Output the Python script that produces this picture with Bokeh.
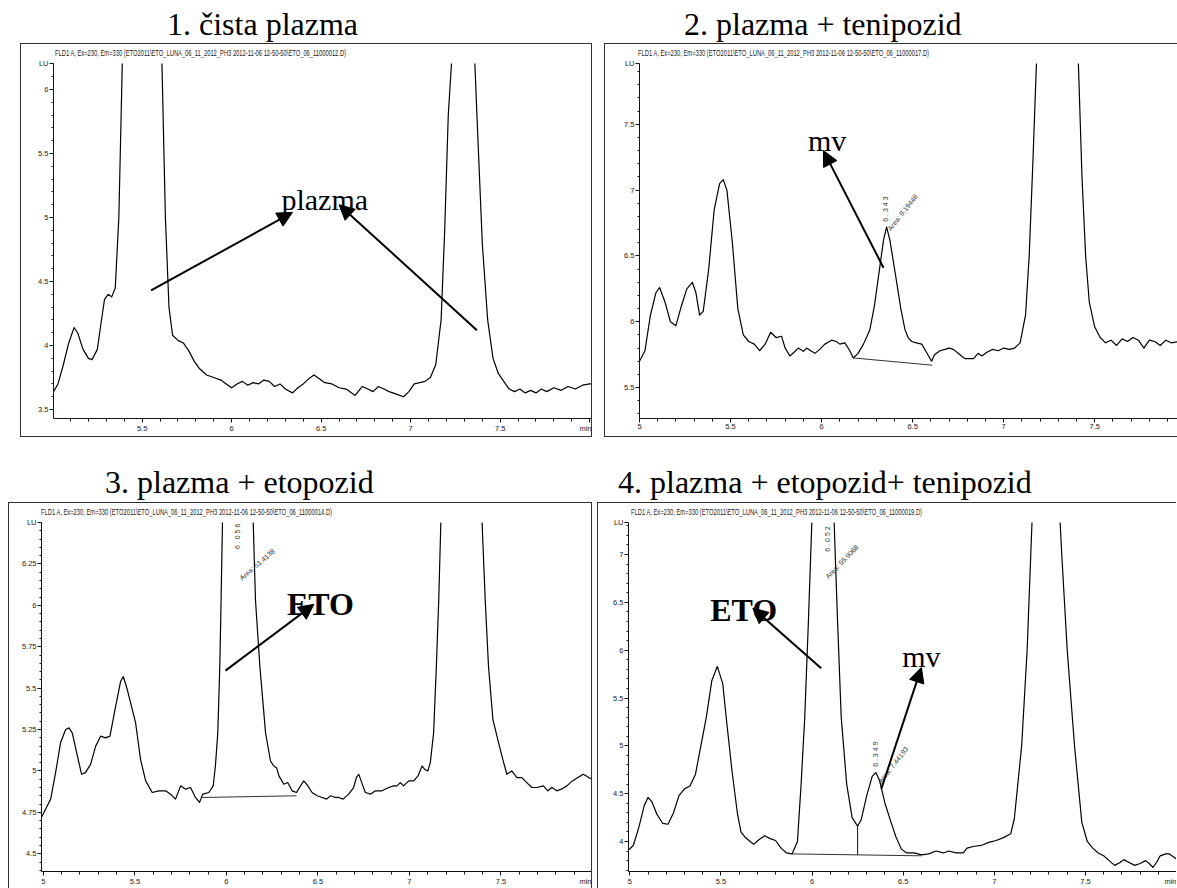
import math
from bokeh.plotting import figure
from bokeh.layouts import column, row
from bokeh.models import Div, Label, Arrow, NormalHead, FixedTicker, Range1d, CustomJSTickFormatter
from bokeh.embed import file_html
from bokeh.resources import INLINE

# ---------------- data ----------------
titles = ["1. čista plazma", "2. plazma + tenipozid", "3. plazma + etopozid", "4. plazma + etopozid+ tenipozid"]
headers = [
    "FLD1 A, Ex=230, Em=330 (ETO2011\\ETO_LUNA_06_11_2012_PH3 2012-11-06 12-50-50\\ETO_06_11000012.D)",
    "FLD1 A, Ex=230, Em=330 (ETO2011\\ETO_LUNA_06_11_2012_PH3 2012-11-06 12-50-50\\ETO_06_11000017.D)",
    "FLD1 A, Ex=230, Em=330 (ETO2011\\ETO_LUNA_06_11_2012_PH3 2012-11-06 12-50-50\\ETO_06_11000014.D)",
    "FLD1 A, Ex=230, Em=330 (ETO2011\\ETO_LUNA_06_11_2012_PH3 2012-11-06 12-50-50\\ETO_06_11000019.D)",
]

p1_t = [5.005, 5.03, 5.06, 5.09, 5.12, 5.14, 5.17, 5.20, 5.22, 5.25, 5.27, 5.29, 5.31, 5.33, 5.35, 5.37, 5.39, 5.42, 5.46, 5.50, 5.54, 5.58, 5.61, 5.63, 5.65, 5.67, 5.70, 5.73, 5.76, 5.79, 5.82, 5.86, 5.90, 5.94, 5.97, 6.00, 6.03, 6.06, 6.09, 6.12, 6.15, 6.18, 6.21, 6.24, 6.27, 6.30, 6.34, 6.37, 6.40, 6.43, 6.46, 6.49, 6.52, 6.56, 6.60, 6.64, 6.69, 6.73, 6.76, 6.79, 6.82, 6.85, 6.88, 6.92, 6.96, 6.99, 7.02, 7.05, 7.08, 7.11, 7.14, 7.17, 7.19, 7.21, 7.23, 7.26, 7.29, 7.32, 7.35, 7.37, 7.40, 7.43, 7.46, 7.49, 7.52, 7.55, 7.58, 7.61, 7.64, 7.67, 7.70, 7.73, 7.76, 7.80, 7.84, 7.88, 7.92, 7.96, 8.00, 8.02]
p1_v = [3.64, 3.70, 3.85, 4.02, 4.14, 4.10, 3.97, 3.90, 3.89, 3.97, 4.17, 4.36, 4.40, 4.38, 4.45, 5.0, 6.25, 8.5, 10.0, 10.5, 10.0, 8.0, 6.25, 5.0, 4.3, 4.08, 4.04, 4.02, 3.96, 3.88, 3.82, 3.77, 3.75, 3.73, 3.70, 3.67, 3.70, 3.72, 3.69, 3.71, 3.70, 3.73, 3.72, 3.68, 3.70, 3.66, 3.63, 3.67, 3.70, 3.74, 3.77, 3.74, 3.71, 3.70, 3.67, 3.66, 3.61, 3.68, 3.66, 3.64, 3.68, 3.66, 3.64, 3.62, 3.60, 3.64, 3.70, 3.71, 3.72, 3.75, 3.85, 4.2, 4.9, 5.8, 6.25, 8.5, 10.0, 8.5, 6.5, 5.8, 4.8, 4.2, 3.9, 3.78, 3.72, 3.66, 3.64, 3.66, 3.63, 3.65, 3.63, 3.66, 3.64, 3.67, 3.65, 3.68, 3.66, 3.69, 3.70, 3.70]

p2_t = [5.00, 5.03, 5.06, 5.09, 5.11, 5.14, 5.17, 5.20, 5.23, 5.26, 5.29, 5.31, 5.33, 5.35, 5.38, 5.41, 5.44, 5.46, 5.48, 5.51, 5.54, 5.57, 5.60, 5.63, 5.66, 5.69, 5.72, 5.75, 5.78, 5.80, 5.826, 5.85, 5.872, 5.90, 5.918, 5.94, 5.963, 5.99, 6.018, 6.055, 6.08, 6.10, 6.128, 6.155, 6.174, 6.20, 6.23, 6.265, 6.29, 6.31, 6.34, 6.357, 6.375, 6.41, 6.435, 6.458, 6.475, 6.495, 6.52, 6.55, 6.575, 6.604, 6.62, 6.65, 6.677, 6.70, 6.724, 6.76, 6.787, 6.81, 6.834, 6.86, 6.88, 6.91, 6.94, 6.97, 7.00, 7.03, 7.06, 7.09, 7.12, 7.14, 7.16, 7.18, 7.22, 7.30, 7.37, 7.41, 7.43, 7.45, 7.47, 7.50, 7.53, 7.56, 7.59, 7.62, 7.65, 7.68, 7.71, 7.74, 7.77, 7.80, 7.83, 7.86, 7.89, 7.92, 7.97]
p2_v = [5.70, 5.78, 6.05, 6.22, 6.26, 6.15, 6.00, 5.97, 6.12, 6.25, 6.30, 6.22, 6.05, 6.08, 6.40, 6.85, 7.05, 7.08, 7.00, 6.60, 6.10, 5.90, 5.85, 5.83, 5.78, 5.83, 5.92, 5.88, 5.89, 5.80, 5.74, 5.77, 5.80, 5.775, 5.80, 5.78, 5.76, 5.79, 5.83, 5.86, 5.85, 5.83, 5.84, 5.78, 5.725, 5.76, 5.83, 5.94, 6.12, 6.32, 6.62, 6.72, 6.62, 6.32, 6.10, 5.94, 5.88, 5.85, 5.84, 5.83, 5.77, 5.70, 5.75, 5.78, 5.79, 5.80, 5.79, 5.75, 5.72, 5.72, 5.72, 5.76, 5.74, 5.77, 5.79, 5.78, 5.80, 5.79, 5.80, 5.84, 6.05, 6.50, 7.20, 7.97, 9.5, 10.5, 9.5, 7.97, 7.10, 6.50, 6.15, 5.96, 5.88, 5.84, 5.86, 5.82, 5.87, 5.85, 5.88, 5.86, 5.80, 5.86, 5.85, 5.82, 5.86, 5.84, 5.85]

p3_t = [4.99, 5.013, 5.04, 5.067, 5.094, 5.122, 5.14, 5.158, 5.182, 5.209, 5.23, 5.258, 5.286, 5.313, 5.34, 5.364, 5.395, 5.422, 5.437, 5.459, 5.486, 5.504, 5.531, 5.559, 5.595, 5.631, 5.668, 5.695, 5.722, 5.75, 5.777, 5.804, 5.831, 5.853, 5.871, 5.904, 5.928, 5.94, 5.953, 5.964, 5.971, 5.979, 6.06, 6.146, 6.159, 6.183, 6.214, 6.241, 6.259, 6.274, 6.287, 6.314, 6.335, 6.359, 6.383, 6.405, 6.423, 6.445, 6.468, 6.496, 6.523, 6.547, 6.569, 6.596, 6.614, 6.637, 6.668, 6.695, 6.71, 6.723, 6.736, 6.759, 6.787, 6.814, 6.85, 6.886, 6.914, 6.932, 6.95, 6.968, 6.996, 7.023, 7.047, 7.069, 7.083, 7.10, 7.114, 7.132, 7.147, 7.16, 7.172, 7.28, 7.396, 7.414, 7.432, 7.456, 7.487, 7.51, 7.532, 7.559, 7.587, 7.614, 7.641, 7.668, 7.696, 7.732, 7.756, 7.778, 7.805, 7.83, 7.86, 7.89, 7.92, 7.95, 7.98, 8.00]
p3_v = [4.72, 4.77, 4.83, 4.99, 5.17, 5.25, 5.26, 5.23, 5.11, 4.98, 4.99, 5.04, 5.15, 5.21, 5.20, 5.21, 5.39, 5.54, 5.57, 5.49, 5.37, 5.29, 5.07, 4.94, 4.87, 4.88, 4.88, 4.86, 4.83, 4.91, 4.89, 4.90, 4.84, 4.81, 4.86, 4.87, 4.91, 5.03, 5.23, 5.63, 6.03, 6.52, 8.5, 6.52, 6.03, 5.63, 5.23, 5.06, 5.03, 5.02, 4.97, 4.92, 4.93, 4.88, 4.87, 4.91, 4.94, 4.91, 4.87, 4.85, 4.84, 4.83, 4.85, 4.84, 4.84, 4.83, 4.86, 4.90, 4.96, 4.98, 4.94, 4.87, 4.86, 4.88, 4.88, 4.90, 4.91, 4.91, 4.93, 4.91, 4.94, 4.94, 4.97, 5.03, 5.01, 5.00, 5.05, 5.23, 5.63, 6.03, 6.52, 9.0, 6.52, 6.03, 5.63, 5.31, 5.17, 5.07, 4.98, 5.00, 4.96, 4.96, 4.93, 4.90, 4.90, 4.91, 4.88, 4.90, 4.88, 4.89, 4.91, 4.94, 4.96, 4.98, 4.96, 4.95]

p4_t = [4.993, 5.02, 5.05, 5.08, 5.10, 5.12, 5.15, 5.18, 5.21, 5.24, 5.27, 5.30, 5.33, 5.36, 5.39, 5.42, 5.45, 5.48, 5.51, 5.53, 5.56, 5.59, 5.61, 5.63, 5.66, 5.68, 5.71, 5.74, 5.77, 5.80, 5.83, 5.86, 5.89, 5.92, 5.94, 5.96, 5.98, 6.00, 6.03, 6.06, 6.09, 6.12, 6.14, 6.16, 6.19, 6.22, 6.25, 6.27, 6.30, 6.33, 6.35, 6.37, 6.40, 6.43, 6.46, 6.49, 6.52, 6.56, 6.60, 6.64, 6.68, 6.72, 6.75, 6.79, 6.83, 6.85, 6.89, 6.93, 6.97, 7.01, 7.05, 7.09, 7.11, 7.15, 7.18, 7.20, 7.23, 7.28, 7.33, 7.37, 7.40, 7.44, 7.48, 7.51, 7.54, 7.57, 7.60, 7.63, 7.66, 7.69, 7.71, 7.74, 7.77, 7.80, 7.83, 7.85, 7.87, 7.89, 7.91, 7.94, 7.96, 7.99, 8.01]
p4_v = [3.91, 3.96, 4.15, 4.38, 4.46, 4.42, 4.28, 4.19, 4.18, 4.30, 4.48, 4.55, 4.58, 4.70, 5.00, 5.30, 5.68, 5.83, 5.65, 5.28, 4.75, 4.30, 4.10, 4.05, 4.00, 3.97, 4.02, 4.06, 4.03, 4.01, 3.93, 3.88, 3.87, 4.00, 4.60, 5.30, 6.30, 7.40, 9.00, 9.60, 9.00, 7.40, 6.30, 5.30, 4.60, 4.25, 4.16, 4.23, 4.48, 4.68, 4.72, 4.64, 4.40, 4.22, 4.05, 3.92, 3.88, 3.88, 3.86, 3.87, 3.90, 3.88, 3.90, 3.88, 3.88, 3.93, 3.95, 3.96, 3.99, 4.01, 4.04, 4.08, 4.24, 5.00, 6.00, 7.00, 8.50, 10.0, 8.50, 7.00, 6.00, 5.00, 4.20, 4.00, 3.93, 3.88, 3.85, 3.80, 3.75, 3.78, 3.81, 3.78, 3.75, 3.77, 3.80, 3.77, 3.73, 3.78, 3.85, 3.87, 3.87, 3.83, 3.80]

# integration baselines (start t, start v, end t, end v)
base2 = [6.174, 5.725, 6.608, 5.67]
base3 = [5.867, 4.84, 6.383, 4.85]
base4 = [5.89, 3.87, 6.60, 3.85]
drop4 = [6.25, 4.16, 3.86]

# axis ranges and ticks
xr = [(5.005, 8.01), (5.0, 7.96), (4.99, 8.0), (4.993, 8.005)]
yr = [(3.43, 6.203), (5.265, 7.962), (4.393, 6.5), (3.686, 7.335)]
ymaj = [[3.5, 4, 4.5, 5, 5.5, 6], [5.5, 6, 6.5, 7, 7.5], [4.5, 4.75, 5, 5.25, 5.5, 5.75, 6, 6.25], [4, 4.5, 5, 5.5, 6, 6.5, 7]]
ystep_minor = [0.1, 0.1, 0.05, 0.1]
xmaj = [5.0, 5.5, 6.0, 6.5, 7.0, 7.5, 8.0]

# ---------------- helpers ----------------
SANS = "Liberation Sans"
SERIF = "Liberation Serif"
BORDER = "1px solid #333333"


def minor_list(lo, hi, step):
    out = []
    k = math.ceil(lo / step - 1e-9)
    while k * step <= hi + 1e-9:
        out.append(round(k * step, 4))
        k += 1
    return out


def formatter(special, label):
    return CustomJSTickFormatter(args=dict(special=special, label=label), code="""
if (Math.abs(tick - special) < 1e-6) { return label; }
return String(Math.round(tick * 1000) / 1000);
""")


def make_panel(i, w, h, borders, css):
    bl, br, bt, bb = borders
    p = figure(width=w, height=h, x_range=Range1d(*xr[i]), y_range=Range1d(*yr[i]),
               output_backend="svg", toolbar_location=None,
               min_border_left=bl, min_border_right=br, min_border_top=bt, min_border_bottom=bb)
    p.title.visible = False
    p.grid.visible = False
    p.outline_line_color = None
    p.background_fill_color = "white"
    p.border_fill_color = "white"
    p.styles = css
    for ax in (p.xaxis[0], p.yaxis[0]):
        ax.axis_line_color = "#111111"
        ax.axis_line_width = 1
        ax.major_tick_line_color = "#111111"
        ax.minor_tick_line_color = "#111111"
        ax.major_tick_in = 0
        ax.minor_tick_in = 0
        ax.major_label_text_font = SANS
        ax.major_label_text_font_size = "7.5px"
        ax.major_label_text_color = "#222222"
        ax.major_label_standoff = 1
    lo, hi = xr[i]
    p.xaxis[0].ticker = FixedTicker(ticks=[t for t in xmaj if lo - 1e-9 <= t <= hi + 1e-9],
                                    minor_ticks=minor_list(lo, hi, 0.1))
    p.xaxis[0].formatter = formatter(8.0, "min")
    p.xaxis[0].major_tick_out = 4
    p.xaxis[0].minor_tick_out = 3
    lo, hi = yr[i]
    p.yaxis[0].ticker = FixedTicker(ticks=ymaj[i] + [hi], minor_ticks=minor_list(lo, hi, ystep_minor[i]))
    p.yaxis[0].formatter = formatter(hi, "LU")
    p.yaxis[0].major_tick_out = 4
    p.yaxis[0].minor_tick_out = 2
    return p


def title_div(i, w, h, left, top):
    html = ('<div style="margin-left:%dpx; padding-top:%dpx; white-space:nowrap; '
            'font-family:\'Liberation Serif\', serif; font-size:32px; line-height:32px; color:#000;">%s</div>'
            % (left, top, titles[i]))
    return Div(text=html, width=w, height=h, margin=(0, 0, 0, 0))


def header_div(i, w, h, left, mleft, css):
    html = ('<div style="margin-left:%dpx; height:%dpx; line-height:%dpx; white-space:nowrap; '
            'font-family:\'Liberation Sans\', sans-serif; font-size:8.5px; color:#222; '
            'transform:scaleX(0.68); transform-origin:0 50%%;">%s</div>'
            % (left, h, h, headers[i]))
    return Div(text=html, width=w, height=h, margin=(0, 0, 0, mleft), styles=css)


def arrow(p, xs, ys, xe, ye):
    p.add_layout(Arrow(end=NormalHead(size=15, fill_color="black", line_color="black", line_width=1),
                       x_start=xs, y_start=ys, x_end=xe, y_end=ye,
                       line_color="black", line_width=2))


def txt(p, x, y, s, size="30px", bold=False, angle=0.0, font=SERIF, color="black", align="center", baseline="alphabetic"):
    p.add_layout(Label(x=x, y=y, text=s, text_font=font, text_font_size=size,
                       text_font_style="bold" if bold else "normal", text_color=color,
                       angle=angle, text_align=align, text_baseline=baseline))


# ---------------- panel 1 ----------------
p1 = make_panel(0, 572, 380, (32, 2, 6, 19), {"border-left": BORDER, "border-right": BORDER, "border-bottom": BORDER})
p1.line(p1_t, p1_v, line_color="black", line_width=1.2, line_join="round")
txt(p1, 6.52, 5.14, "plazma", size="30px")
arrow(p1, 5.55, 4.43, 6.34, 5.04)
arrow(p1, 7.37, 4.12, 6.60, 5.10)
h1 = header_div(0, 572, 14, 34, 20, {"border-left": BORDER, "border-right": BORDER, "border-top": BORDER})

# ---------------- panel 2 ----------------
p2 = make_panel(1, 573, 380, (34, 0, 6, 19), {"border-left": BORDER, "border-bottom": BORDER})
p2.line(p2_t, p2_v, line_color="black", line_width=1.2, line_join="round")
p2.segment(x0=[base2[0]], y0=[base2[1]], x1=[base2[2]], y1=[base2[3]], line_color="#333333", line_width=1)
txt(p2, 6.35, 6.76, "6 . 3 4 3", size="7px", font=SANS, angle=math.pi / 2, color="#333333", align="left", baseline="middle")
txt(p2, 6.37, 6.70, "Area: 9.19448", size="7px", font=SANS, angle=0.9, color="#333333", align="left", baseline="middle")
txt(p2, 6.03, 7.38, "mv", size="30px")
arrow(p2, 6.34, 6.41, 6.01, 7.30)
h2 = header_div(1, 573, 14, 33, 12, {"border-left": BORDER, "border-top": BORDER})

# ---------------- panel 3 ----------------
p3 = make_panel(2, 584, 372, (32, 1, 6, 14), {"border-left": BORDER, "border-right": BORDER})
p3.line(p3_t, p3_v, line_color="black", line_width=1.2, line_join="round")
p3.segment(x0=[base3[0]], y0=[base3[1]], x1=[base3[2]], y1=[base3[3]], line_color="#333333", line_width=1)
txt(p3, 6.059, 6.34, "6 . 0 5 6", size="7px", font=SANS, angle=math.pi / 2, color="#333333", align="left", baseline="middle")
txt(p3, 6.077, 6.16, "Area: 51.4138", size="7px", font=SANS, angle=0.71, color="#333333", align="left", baseline="middle")
txt(p3, 6.514, 6.006, "ETO", size="32px", bold=True)
arrow(p3, 5.995, 5.606, 6.478, 6.006)
h3 = header_div(2, 584, 14, 32, 8, {"border-left": BORDER, "border-right": BORDER, "border-top": BORDER})

# ---------------- panel 4 ----------------
p4 = make_panel(3, 579, 372, (30, 0, 6, 14), {"border-left": BORDER})
p4.line(p4_t, p4_v, line_color="black", line_width=1.2, line_join="round")
p4.segment(x0=[base4[0]], y0=[base4[1]], x1=[base4[2]], y1=[base4[3]], line_color="#333333", line_width=1)
p4.segment(x0=[drop4[0]], y0=[drop4[1]], x1=[drop4[0]], y1=[drop4[2]], line_color="#111111", line_width=1)
txt(p4, 6.085, 7.03, "6 . 0 5 2", size="7px", font=SANS, angle=math.pi / 2, color="#333333", align="left", baseline="middle")
txt(p4, 6.08, 6.76, "Area: 55.9068", size="7px", font=SANS, angle=0.8, color="#333333", align="left", baseline="middle")
txt(p4, 6.35, 4.78, "6 . 3 4 9", size="7px", font=SANS, angle=math.pi / 2, color="#333333", align="left", baseline="middle")
txt(p4, 6.37, 4.62, "Area: 7.44193", size="7px", font=SANS, angle=0.9, color="#333333", align="left", baseline="middle")
txt(p4, 5.625, 6.42, "ETO", size="32px", bold=True)
arrow(p4, 6.05, 5.81, 5.675, 6.44)
txt(p4, 6.60, 5.93, "mv", size="30px")
arrow(p4, 6.38, 4.55, 6.60, 5.82)
h4 = header_div(3, 579, 14, 33, 5, {"border-left": BORDER, "border-top": BORDER})

# ---------------- layout (page origin at 0,0) ----------------
p1.margin = (0, 0, 0, 20)
p2.margin = (0, 0, 0, 12)
p3.margin = (0, 0, 0, 8)
p4.margin = (0, 0, 0, 5)

col1 = column(title_div(0, 592, 43, 167, 8), h1, p1, spacing=0)
col2 = column(title_div(1, 585, 43, 92, 8), h2, p2, spacing=0)
col3 = column(title_div(2, 592, 65, 105, 29), h3, p3, spacing=0)
col4 = column(title_div(3, 584, 65, 26, 29), h4, p4, spacing=0)
layout = column(row(col1, col2, spacing=0), row(col3, col4, spacing=0), spacing=0)

open("out.html", "w").write(file_html(layout, INLINE))
